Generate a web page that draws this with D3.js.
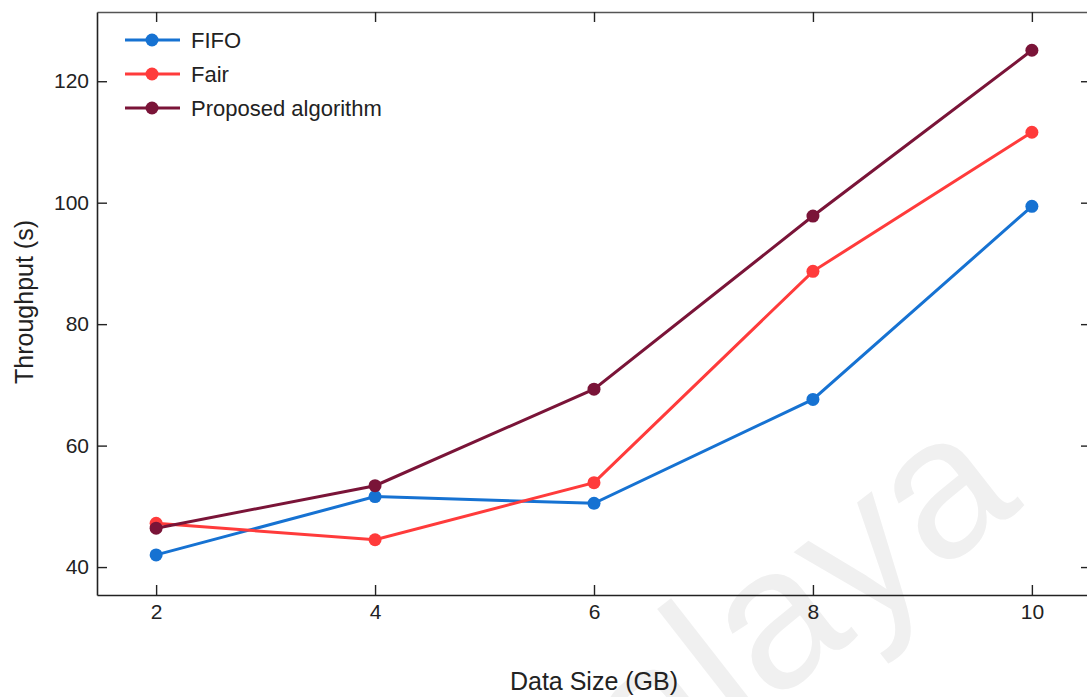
<!DOCTYPE html>
<html>
<head>
<meta charset="utf-8">
<script src="https://cdn.jsdelivr.net/npm/d3@7/dist/d3.min.js"></script>
<style>
  html, body { margin: 0; padding: 0; background: #fff; }
  svg { display: block; font-family: "Liberation Sans", Arial, sans-serif; }
</style>
</head>
<body>
<svg id="chart" width="1087" height="697"></svg>
<script>
const categories = [2, 4, 6, 8, 10];
const fifo = [42.0, 51.6, 50.5, 67.6, 99.4];
const fair = [47.2, 44.5, 53.9, 88.7, 111.6];
const proposed = [46.4, 53.4, 69.3, 97.8, 125.1];
const seriesNames = ["FIFO", "Fair", "Proposed algorithm"];
const seriesColors = ["#1672d2", "#ff3b3b", "#7a1438"];
const xTicks = [2, 4, 6, 8, 10];
const yTicks = [40, 60, 80, 100, 120];

const svg = d3.select("#chart");
const m = { left: 97, right: 1091, top: 12, bottom: 595 };

const x = d3.scaleLinear().domain([1.46, 10.54]).range([m.left, m.right]);
const y = d3.scaleLinear().domain([35.4, 131.4]).range([m.bottom, m.top]);

// watermark
svg.append("text")
  .attr("transform", "translate(648,800) rotate(-38)")
  .attr("font-size", 200)
  .attr("fill", "#f0f0f0")
  .attr("font-family", "Liberation Sans, Arial, sans-serif")
  .text("alaya");

// axes
const tickLen = 10;
const gB = svg.append("g").attr("transform", `translate(0,${m.bottom})`)
  .call(d3.axisBottom(x).tickValues(xTicks).tickSizeInner(-tickLen).tickSizeOuter(0).tickPadding(9));
const gT = svg.append("g").attr("transform", `translate(0,${m.top})`)
  .call(d3.axisTop(x).tickValues(xTicks).tickSizeInner(-tickLen).tickSizeOuter(0).tickFormat(""));
const gL = svg.append("g").attr("transform", `translate(${m.left},0)`)
  .call(d3.axisLeft(y).tickValues(yTicks).tickSizeInner(-tickLen).tickSizeOuter(0).tickPadding(8));
const gR = svg.append("g").attr("transform", `translate(${m.right},0)`)
  .call(d3.axisRight(y).tickValues(yTicks).tickSizeInner(-tickLen).tickSizeOuter(0).tickFormat(""));

[gB, gT, gL, gR].forEach(g => {
  g.select(".domain").attr("stroke", "#222").attr("stroke-width", 1.6);
  g.selectAll(".tick line").attr("stroke", "#222").attr("stroke-width", 1.4);
  g.selectAll(".tick text").attr("font-size", 21).attr("fill", "#222")
    .attr("font-family", "Liberation Sans, Arial, sans-serif");
});
gT.select(".domain").attr("stroke", "#555");

// axis titles
svg.append("text").attr("x", 594).attr("y", 690).attr("text-anchor", "middle")
  .attr("font-size", 25).attr("fill", "#222").text("Data Size (GB)");
svg.append("text").attr("transform", "translate(33,302) rotate(-90)").attr("text-anchor", "middle")
  .attr("font-size", 25).attr("fill", "#222").text("Throughput (s)");

// series
const allSeries = [fifo, fair, proposed];
const line = d3.line().x((d, i) => x(categories[i])).y(d => y(d));
allSeries.forEach((vals, k) => {
  const g = svg.append("g");
  g.append("path").datum(vals).attr("d", line)
    .attr("fill", "none").attr("stroke", seriesColors[k]).attr("stroke-width", 3);
  g.selectAll("circle").data(vals).join("circle")
    .attr("cx", (d, i) => x(categories[i])).attr("cy", d => y(d))
    .attr("r", 6.5).attr("fill", seriesColors[k]);
});

// legend
const leg = svg.append("g");
seriesNames.forEach((name, k) => {
  const ly = 40 + k * 34;
  leg.append("line").attr("x1", 125).attr("x2", 180).attr("y1", ly).attr("y2", ly)
    .attr("stroke", seriesColors[k]).attr("stroke-width", 3);
  leg.append("circle").attr("cx", 152).attr("cy", ly).attr("r", 6.5).attr("fill", seriesColors[k]);
  leg.append("text").attr("x", 191).attr("y", ly + 8).attr("font-size", 22).attr("fill", "#222").text(name);
});
</script>
</body>
</html>
